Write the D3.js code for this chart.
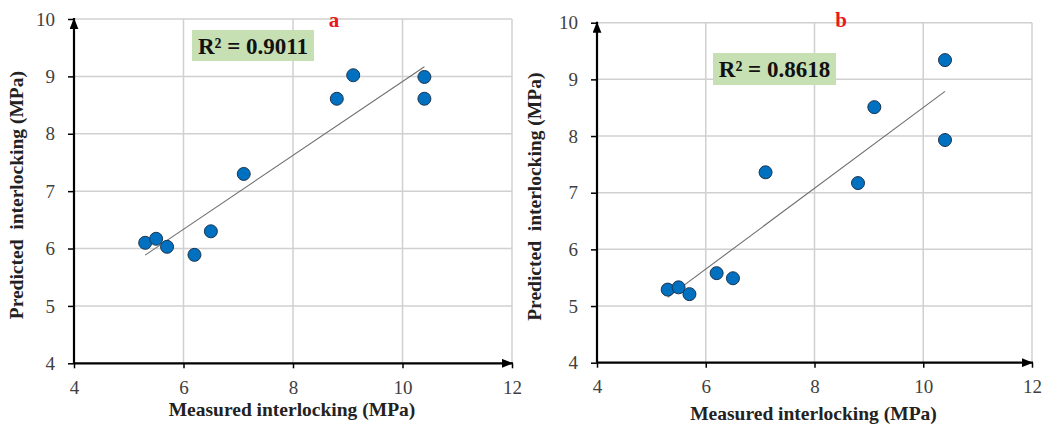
<!DOCTYPE html>
<html>
<head>
<meta charset="utf-8">
<script src="https://cdn.jsdelivr.net/npm/d3@7"></script>
<style>
  html, body { margin: 0; padding: 0; background: #fff; }
  svg { display: block; }
  svg text { font-family: "Liberation Serif", "Times New Roman", serif; white-space: pre; }
</style>
</head>
<body>
<svg id="chart" width="1045" height="425"></svg>
<script>
// Measured vs. predicted interlocking strength (MPa) for two models
const measuredA  = [5.3, 5.5, 5.7, 6.2, 6.5, 7.1, 8.8, 9.1, 10.4, 10.4];
const predictedA = [6.10, 6.17, 6.03, 5.89, 6.30, 7.30, 8.61, 9.02, 8.99, 8.61];

const measuredB  = [5.3, 5.5, 5.7, 6.2, 6.5, 7.1, 8.8, 9.1, 10.4, 10.4];
const predictedB = [5.29, 5.33, 5.21, 5.58, 5.49, 7.36, 7.17, 8.51, 9.34, 7.93];

const xTicks = [4, 6, 8, 10, 12];
const yTicks = [4, 5, 6, 7, 8, 9, 10];
const panelLetters = ["a", "b"];
const r2Labels = ["R² = 0.9011", "R² = 0.8618"];
const xTitle = "Measured interlocking (MPa)";
const yTitle = "Predicted  interlocking (MPa)";

const serif = '"Liberation Serif", "Times New Roman", serif';
const svg = d3.select("#chart");

const panels = [
  { xs: measuredA, ys: predictedA, letter: panelLetters[0], r2: r2Labels[0],
    left: 74, right: 512, top: 19, bottom: 363.3,
    r2Box: [192, 30, 122, 31], letterPos: [334, 27],
    yTitleX: 23, xTitleY: 416 },
  { xs: measuredB, ys: predictedB, letter: panelLetters[1], r2: r2Labels[1],
    left: 597, right: 1032, top: 22.7, bottom: 362.7,
    r2Box: [713, 53, 123, 32], letterPos: [841, 27],
    yTitleX: 541, xTitleY: 420 }
];

const defs = svg.append("defs");
defs.append("marker")
  .attr("id", "arrow")
  .attr("viewBox", "0 0 10 8")
  .attr("refX", 10).attr("refY", 4)
  .attr("markerUnits", "userSpaceOnUse")
  .attr("markerWidth", 11).attr("markerHeight", 9)
  .attr("orient", "auto")
  .append("path")
  .attr("d", "M0,0 L10,4 L0,8 Z")
  .attr("fill", "#000");

panels.forEach(p => {
  const x = d3.scaleLinear().domain([4, 12]).range([p.left, p.right]);
  const y = d3.scaleLinear().domain([4, 10]).range([p.bottom, p.top]);
  const g = svg.append("g");

  // gridlines
  g.append("g").selectAll("line").data(xTicks.filter(t => t > 4)).join("line")
    .attr("x1", d => x(d)).attr("x2", d => x(d))
    .attr("y1", y(10)).attr("y2", y(4))
    .attr("stroke", "#d0d0d0").attr("stroke-width", 1.5);
  g.append("g").selectAll("line").data(yTicks.filter(t => t > 4)).join("line")
    .attr("x1", x(4)).attr("x2", x(12))
    .attr("y1", d => y(d)).attr("y2", d => y(d))
    .attr("stroke", "#d0d0d0").attr("stroke-width", 1.5);

  // axes with tick labels
  const fmt = d3.format("d");
  const xAxis = d3.axisBottom(x).tickValues(xTicks).tickFormat(fmt).tickSize(5).tickPadding(12);
  const yAxis = d3.axisLeft(y).tickValues(yTicks).tickFormat(fmt).tickSize(6).tickPadding(13);

  const gx = g.append("g").attr("transform", `translate(0,${y(4)})`).call(xAxis);
  const gy = g.append("g").attr("transform", `translate(${x(4)},0)`).call(yAxis);
  [gx, gy].forEach(a => {
    a.attr("font-family", serif).attr("font-size", 19);
    a.select(".domain").remove();
    a.selectAll(".tick line").attr("stroke", "#000").attr("stroke-width", 1.5);
    a.selectAll(".tick text")
      .attr("fill", "#404040")
      .attr("font-family", serif)
      .attr("font-size", 19);
  });

  // axis lines with arrowheads
  g.append("line")
    .attr("x1", x(4)).attr("x2", x(12) + 1)
    .attr("y1", y(4)).attr("y2", y(4))
    .attr("stroke", "#000").attr("stroke-width", 2.2)
    .attr("marker-end", "url(#arrow)");
  g.append("line")
    .attr("x1", x(4)).attr("x2", x(4))
    .attr("y1", y(4)).attr("y2", y(10) - 1)
    .attr("stroke", "#000").attr("stroke-width", 2.2)
    .attr("marker-end", "url(#arrow)");

  // least-squares trend line over the measured range
  const pts = p.xs.map((v, i) => [v, p.ys[i]]);
  const mx = d3.mean(p.xs), my = d3.mean(p.ys);
  const slope = d3.sum(pts, d => (d[0] - mx) * (d[1] - my)) /
                d3.sum(pts, d => (d[0] - mx) ** 2);
  const icpt = my - slope * mx;
  const [x0, x1] = d3.extent(p.xs);
  g.append("line")
    .attr("x1", x(x0)).attr("y1", y(icpt + slope * x0))
    .attr("x2", x(x1)).attr("y2", y(icpt + slope * x1))
    .attr("stroke", "#6e6e6e").attr("stroke-width", 1.1);

  // data points
  g.append("g").selectAll("circle").data(pts).join("circle")
    .attr("cx", d => x(d[0])).attr("cy", d => y(d[1]))
    .attr("r", 6.5)
    .attr("fill", "#0070c0")
    .attr("stroke", "#1c3550").attr("stroke-width", 1);

  // R² annotation
  const [bx, by, bw, bh] = p.r2Box;
  g.append("rect")
    .attr("x", bx).attr("y", by).attr("width", bw).attr("height", bh)
    .attr("fill", "#c6e0b4");
  g.append("text")
    .attr("x", bx + bw / 2).attr("y", by + bh / 2 + 8)
    .attr("text-anchor", "middle")
    .attr("font-weight", "bold").attr("font-size", "23px")
    .attr("fill", "#111")
    .text(p.r2);

  // panel letter
  g.append("text")
    .attr("x", p.letterPos[0]).attr("y", p.letterPos[1])
    .attr("text-anchor", "middle")
    .attr("font-weight", "bold").attr("font-size", "21px")
    .attr("fill", "#e8191e")
    .text(p.letter);

  // axis titles
  g.append("text")
    .attr("x", (p.left + p.right) / 2 - 1).attr("y", p.xTitleY)
    .attr("text-anchor", "middle")
    .attr("font-weight", "bold").attr("font-size", "19.5px")
    .attr("fill", "#222")
    .text(xTitle);
  g.append("text")
    .attr("transform", `translate(${p.yTitleX},${(p.top + p.bottom) / 2 + 4}) rotate(-90)`)
    .attr("text-anchor", "middle")
    .attr("font-weight", "bold").attr("font-size", "19.5px")
    .attr("fill", "#222")
    .text(yTitle);
});
</script>
</body>
</html>
